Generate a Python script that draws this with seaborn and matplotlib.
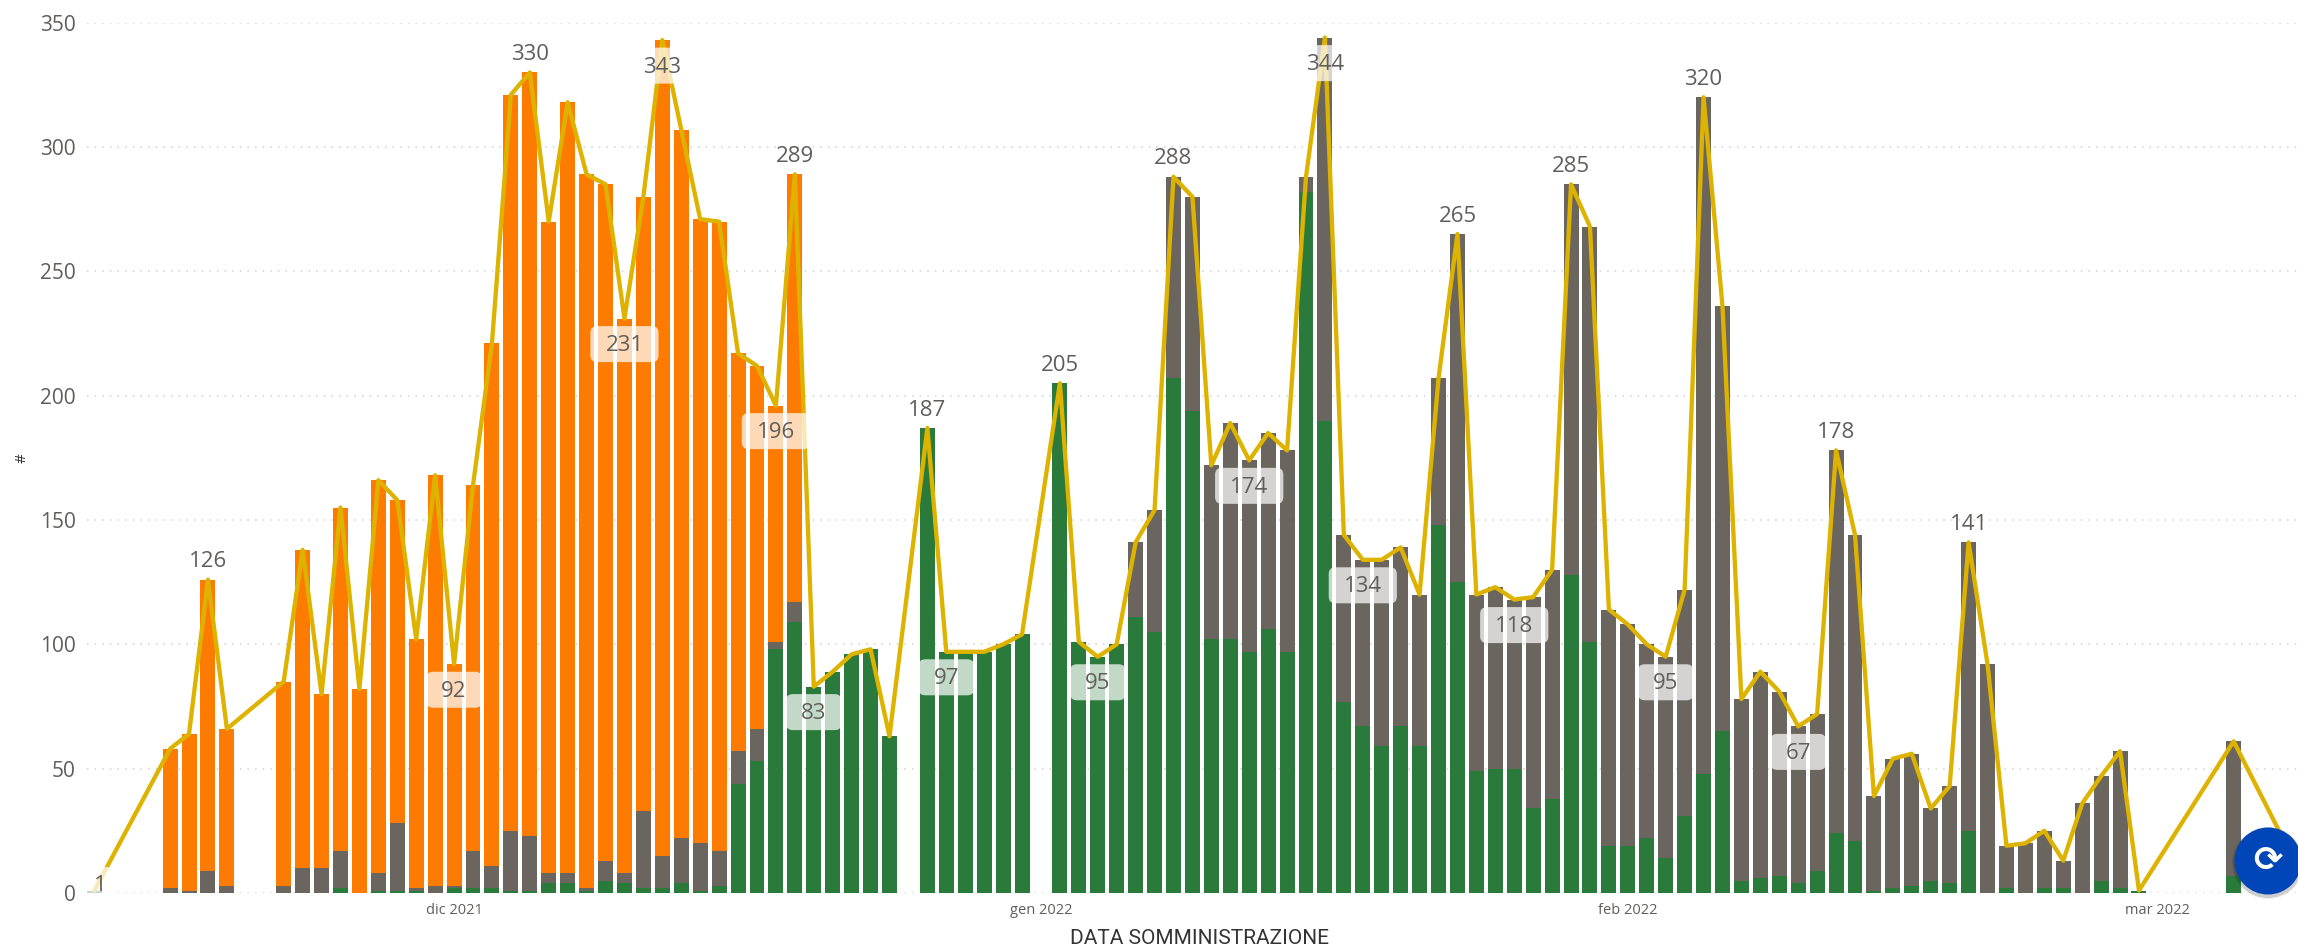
import matplotlib
matplotlib.use("Agg")
import matplotlib.pyplot as plt
from matplotlib.patches import Circle, BoxStyle
from matplotlib.transforms import IdentityTransform
import numpy as np
import seaborn as sns

# day number, counted from 12 Nov 2021
days = [0, 4, 5, 6, 7, 10, 11, 12, 13, 14, 15, 16, 17, 18, 19, 20, 21, 22, 23, 24,
        25, 26, 27, 28, 29, 30, 31, 32, 33, 34, 35, 36, 37, 38, 39, 40, 41, 42,
        44, 45, 46, 47, 48, 49, 51, 52, 53, 54, 55, 56, 57, 58, 59, 60, 61, 62, 63, 64,
        65, 66, 67, 68, 69, 70, 71, 72, 73, 74, 75, 76, 77, 78, 79, 80, 81, 82, 83, 84,
        85, 86, 87, 88, 89, 90, 91, 92, 93, 94, 95, 96, 97, 98, 99, 100, 101, 102, 103,
        104, 105, 106, 107, 108, 113]
totale = [1, 58, 64, 126, 66, 85, 138, 80, 155, 82, 166, 158, 102, 168, 92, 164, 221, 321, 330, 270,
          318, 289, 285, 231, 280, 343, 307, 271, 270, 217, 212, 196, 289, 83, 89, 96, 98, 63,
          187, 97, 97, 97, 100, 104, 205, 101, 95, 100, 141, 154, 288, 280, 172, 189, 174, 185, 178, 288,
          344, 144, 134, 134, 139, 120, 207, 265, 120, 123, 118, 119, 130, 285, 268, 114, 108, 100, 95, 122,
          320, 236, 78, 89, 81, 67, 72, 178, 144, 39, 54, 56, 34, 43, 141, 92, 19, 20, 25,
          13, 36, 47, 57, 1, 61]
verde = [1, 0, 0, 0, 0, 0, 0, 0, 2, 0, 1, 1, 1, 0, 2, 2, 2, 1, 1, 4,
         4, 1, 5, 4, 2, 2, 4, 1, 3, 44, 53, 98, 109, 83, 89, 96, 98, 63,
         187, 97, 97, 97, 100, 104, 205, 101, 95, 100, 111, 105, 207, 194, 102, 102, 97, 106, 97, 282,
         190, 77, 67, 59, 67, 59, 148, 125, 49, 50, 50, 34, 38, 128, 101, 19, 19, 22, 14, 31,
         48, 65, 5, 6, 7, 4, 9, 24, 21, 1, 2, 3, 5, 4, 25, 0, 2, 0, 2,
         2, 0, 5, 2, 1, 7]
# orange share of each bar; the grey share is what is left of the total
arancione = [0, 56, 63, 117, 63, 82, 128, 70, 138, 82, 158, 130, 100, 165, 89, 147, 210, 296, 307, 262,
             310, 287, 272, 223, 247, 328, 285, 251, 253, 160, 146, 95, 172, 0, 0, 0, 0, 0,
             0, 0, 0, 0, 0, 0, 0, 0, 0, 0, 0, 0, 0, 0, 0, 0, 0, 0, 0, 0,
             0, 0, 0, 0, 0, 0, 0, 0, 0, 0, 0, 0, 0, 0, 0, 0, 0, 0, 0, 0,
             0, 0, 0, 0, 0, 0, 0, 0, 0, 0, 0, 0, 0, 0, 0, 0, 0, 0, 0,
             0, 0, 0, 0, 0, 0]
# the line runs on to a later point past the right edge of the view
giorni_linea = days + [117]
totale_linea = totale + [1]

etichette_sopra = [6, 23, 37, 44, 51, 57, 72, 78, 85, 92, 99]
etichette_box = [19, 28, 30, 36, 38, 45, 53, 61, 65, 67, 75, 83, 90]
tick_days = [19, 50, 81, 109]
tick_labels = ["dic 2021", "gen 2022", "feb 2022", "mar 2022"]
y_ticks = [0, 50, 100, 150, 200, 250, 300, 350]

ORANGE, GRAY, GREEN, GOLD, TXT = "#FC7B00", "#6A655E", "#2A7A3B", "#DDB300", "#605E5C"

sns.set_theme(style="white")
plt.rcParams["font.family"] = ["Open Sans", "DejaVu Sans"]

W, H = 2298, 947
fig = plt.figure(figsize=(W / 100, H / 100), dpi=100)
ax = fig.add_axes([87 / W, (H - 893) / H, (W - 87) / W, (893 - 22.7) / H])

totals = np.array(totale)
green = np.array(verde)
orange = np.array(arancione)
gray_top = totals - orange

bar_kw = dict(native_scale=True, width=0.79, ax=ax, errorbar=None, saturation=1, linewidth=0)
sns.barplot(x=days, y=totals, color=ORANGE, **bar_kw)
sns.barplot(x=days, y=gray_top, color=GRAY, **bar_kw)
sns.barplot(x=days, y=green, color=GREEN, **bar_kw)
sns.lineplot(x=giorni_linea, y=totale_linea, color=GOLD, lw=3.1, ax=ax, errorbar=None, zorder=5)

ax.set_xlim(-0.39, 116.4)
ax.set_ylim(0, 350)
ax.set_yticks(y_ticks)
ax.set_xticks(tick_days, tick_labels)
ax.set_axisbelow(True)
ax.grid(axis="y", color="#D2D2D2", lw=1.1, ls=(0, (1, 4)))
ax.grid(axis="x", visible=False)
sns.despine(ax=ax, left=True, bottom=True)
ax.tick_params(axis="y", length=0, pad=8, labelsize=15, labelcolor=TXT)
ax.tick_params(axis="x", length=0, pad=7, labelsize=10.5, labelcolor=TXT)

ax.set_xlabel("DATA SOMMINISTRAZIONE", fontsize=15, color="#333333", family=["Roboto"])
ax.xaxis.set_label_coords((1200 - 87) / (W - 87), -(938 - 893) / (893 - 22.7), transform=ax.transAxes)
ax.xaxis.label.set_verticalalignment("center")
ax.set_ylabel("#", fontsize=11, color="#333333")
ax.yaxis.set_label_coords((22 - 87) / (W - 87), (893 - 458) / (893 - 22.7), transform=ax.transAxes)
ax.yaxis.label.set_verticalalignment("center")


class WideRound(BoxStyle.Round):
    """Rounded label box, wider than it is padded vertically."""
    def __call__(self, x0, y0, width, height, mutation_size):
        return super().__call__(x0 - 7, y0 + 2, width + 14, height - 1, mutation_size)


lookup = dict(zip(days, totale))
px = 72 / 100
for d in etichette_sopra:
    ax.annotate(str(lookup[d]), (d, lookup[d]), xytext=(0, 18 * px), textcoords="offset points",
                ha="center", va="center", fontsize=16, color=TXT, zorder=7)
box = dict(boxstyle=WideRound(pad=0.36, rounding_size=0.3), fc="white", ec="none", alpha=0.72)
for d in etichette_box:
    ax.annotate(str(lookup[d]), (d, lookup[d]), xytext=(0, -27 * px), textcoords="offset points",
                ha="center", va="center", fontsize=16, color=TXT, bbox=box, zorder=7)
t = ax.annotate("1", (0, 1), xytext=(6 * px, 5 * px), textcoords="offset points",
                ha="center", va="center", fontsize=16, color=TXT,
                bbox=dict(boxstyle="round,pad=0.36,rounding_size=0.3", fc="white", ec="none", alpha=0.72),
                zorder=7, annotation_clip=False)
t.get_bbox_patch().set_clip_on(True)
t.get_bbox_patch().set_clip_box(ax.bbox)

# floating refresh button of the report
for r, a in [(36, 0.08), (35, 0.12)]:
    fig.add_artist(Circle((2268, H - 863), r, transform=IdentityTransform(), fc="black", ec="none", alpha=a, zorder=8))
fig.add_artist(Circle((2268, H - 861), 33.5, transform=IdentityTransform(), fc="#0046B8", ec="none", zorder=9))
fig.text(2268 / W, (H - 861) / H, "\u27F3", family="DejaVu Sans", fontsize=25, fontweight="bold",
         color="white", ha="center", va="center", zorder=10)

fig.savefig("out.png", dpi=100, facecolor="white")
